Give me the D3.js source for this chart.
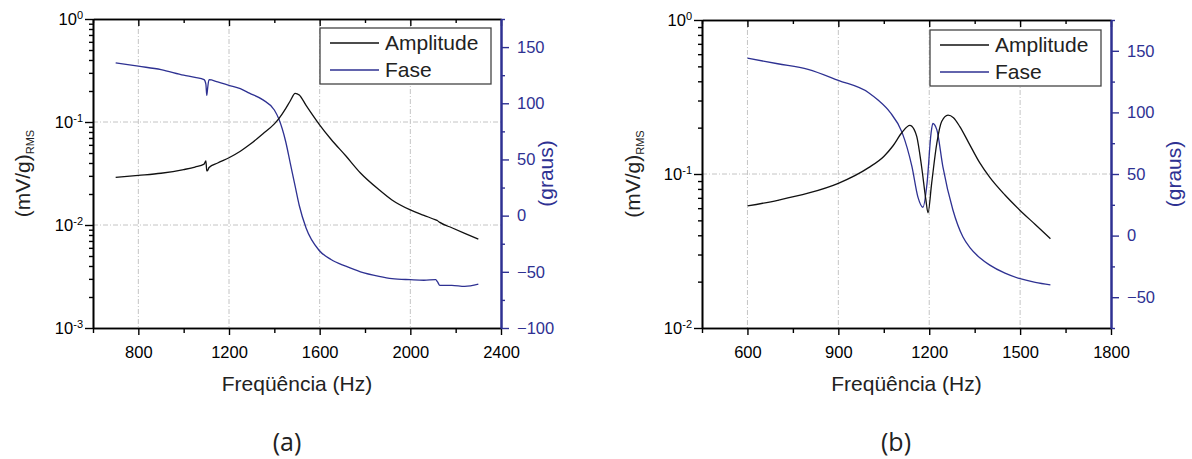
<!DOCTYPE html>
<html>
<head>
<meta charset="utf-8">
<script src="https://cdn.jsdelivr.net/npm/d3@7"></script>
<style>
  body { margin: 0; background: #fff; }
  svg { font-family: "Liberation Sans", Arial, sans-serif; }
</style>
</head>
<body>
<svg id="chart" width="1192" height="459"></svg>
<script>
// Panel (a): measured response
const freqA = [700, 800, 900, 1000, 1050, 1090, 1098, 1102, 1106, 1112, 1150, 1200, 1250, 1290, 1350, 1400,
  1420, 1450, 1470, 1492, 1510, 1540, 1598, 1650, 1715, 1780, 1862, 1919, 2000, 2060, 2112, 2120, 2130,
  2183, 2240, 2300];
const ampA = [0.029, 0.0303, 0.0318, 0.0345, 0.0365, 0.039, 0.042, 0.0335, 0.034, 0.0362, 0.040, 0.045,
  0.052, 0.060, 0.077, 0.096, 0.108, 0.135, 0.16, 0.19, 0.183, 0.145, 0.095, 0.068, 0.047, 0.032, 0.022,
  0.0175, 0.014, 0.0124, 0.0112, 0.0110, 0.0106, 0.0094, 0.0083, 0.0073];
const phaseA = [136, 133, 130, 125, 123, 121, 117, 107, 114, 121, 119, 116, 113, 109, 103, 94, 86, 66, 47,
  26, 9, -11, -31, -39, -45, -50, -54, -56, -57, -57.5, -57, -59, -62, -62, -63, -61];

// Panel (b): model response
const ampFreqB = [600, 700, 800, 900, 1000, 1050, 1080, 1110, 1136, 1150, 1159, 1175, 1189, 1196, 1208,
  1225, 1241, 1262, 1280, 1301, 1330, 1367, 1400, 1450, 1500, 1550, 1600];
const ampB = [0.062, 0.0675, 0.075, 0.087, 0.11, 0.13, 0.152, 0.186, 0.207, 0.195, 0.175, 0.111, 0.068,
  0.056, 0.087, 0.158, 0.219, 0.241, 0.232, 0.203, 0.16, 0.118, 0.095, 0.073, 0.058, 0.047, 0.038];
const phaseFreqB = [600, 700, 800, 900, 1000, 1031, 1071, 1110, 1143, 1163, 1179, 1193, 1206, 1212, 1225,
  1245, 1278, 1311, 1335, 1367, 1400, 1450, 1500, 1550, 1600];
const phaseB = [144, 139.5, 135, 126, 116, 110, 100, 84, 56, 31, 23, 43, 83, 91, 86, 56, 21, -1, -10, -18, -24,
  -30.5, -35, -38, -40];

const legendLabels = ["Amplitude", "Fase"];
const xTitle = "Freqüência (Hz)";

const blue = "#2e3192";
const svg = d3.select("#chart");

function drawPanel(p) {
  const g = svg.append("g");
  const x = d3.scaleLinear().domain(p.xDomain).range([p.left, p.right]);
  const y = d3.scaleLog().domain(p.yDomain).range([p.bottom, p.top]);
  const y2 = d3.scaleLinear().domain(p.y2Domain).range([p.bottom, p.top]);

  // grid
  g.selectAll(".gx").data(p.xGrid).join("line")
    .attr("x1", d => x(d)).attr("x2", d => x(d))
    .attr("y1", p.top).attr("y2", p.bottom)
    .attr("stroke", "#c4c4c4").attr("stroke-dasharray", "5,2,1,2");
  g.selectAll(".gy").data(p.yGrid).join("line")
    .attr("x1", p.left).attr("x2", p.right)
    .attr("y1", d => y(d)).attr("y2", d => y(d))
    .attr("stroke", "#c4c4c4").attr("stroke-dasharray", "5,2,1,2");

  // curves
  const ampLine = d3.line().x((d, i) => x(p.ampFreq[i])).y(d => y(d)).curve(d3.curveMonotoneX);
  const phaseLine = d3.line().x((d, i) => x(p.phaseFreq[i])).y(d => y2(d)).curve(d3.curveMonotoneX);
  g.append("path").attr("d", phaseLine(p.phase))
    .attr("fill", "none").attr("stroke", blue).attr("stroke-width", 1.3);
  g.append("path").attr("d", ampLine(p.amp))
    .attr("fill", "none").attr("stroke", "#111").attr("stroke-width", 1.3);

  // bottom axis
  const xMinor = d3.range(p.xDomain[0], p.xDomain[1] + 1, p.xStep / 2).filter(v => !p.xMajor.includes(v));
  g.append("g").attr("transform", `translate(0,${p.bottom})`)
    .call(d3.axisBottom(x).tickValues(p.xMajor).tickSize(7).tickSizeOuter(0).tickPadding(11).tickFormat(d3.format("d")));
  g.append("g").attr("transform", `translate(0,${p.bottom})`)
    .call(d3.axisBottom(x).tickValues(xMinor).tickSize(5).tickSizeOuter(0).tickFormat(""));
  // top axis, ticks inward
  g.append("g").attr("transform", `translate(0,${p.top})`)
    .call(d3.axisTop(x).tickValues(p.xMajor).tickSize(-7).tickSizeOuter(0).tickFormat(""));
  g.append("g").attr("transform", `translate(0,${p.top})`)
    .call(d3.axisTop(x).tickValues(xMinor).tickSize(-4).tickSizeOuter(0).tickFormat(""));

  // left log axis
  const e0 = Math.round(Math.log10(p.yDomain[0])), e1 = Math.round(Math.log10(p.yDomain[1]));
  const decades = d3.range(e0, e1 + 1).map(e => Math.pow(10, e));
  const yMinor = [];
  d3.range(e0, e1).forEach(e => { for (let k = 2; k < 10; k++) yMinor.push(k * Math.pow(10, e)); });
  const la = g.append("g").attr("transform", `translate(${p.left},0)`)
    .call(d3.axisLeft(y).tickValues(decades).tickSize(8).tickSizeOuter(0).tickPadding(2).tickFormat(""));
  la.selectAll(".tick text").each(function (d) {
    const t = d3.select(this);
    t.append("tspan").text("10");
    t.append("tspan").attr("dy", "-0.55em").attr("font-size", "11px").text(Math.round(Math.log10(d)));
  });
  g.append("g").attr("transform", `translate(${p.left},0)`)
    .call(d3.axisLeft(y).tickValues(yMinor).tickSize(4).tickSizeOuter(0).tickFormat(""));

  // right phase axis
  const y2Minor = p.y2Major.map(v => v - 25).filter(v => v >= p.y2Domain[0]).concat([p.y2Major[p.y2Major.length - 1] + 25]);
  const ra = g.append("g").attr("transform", `translate(${p.right},0)`)
    .call(d3.axisRight(y2).tickValues(p.y2Major).tickSize(8).tickSizeOuter(0).tickPadding(8));
  const rm = g.append("g").attr("transform", `translate(${p.right},0)`)
    .call(d3.axisRight(y2).tickValues(y2Minor).tickSize(4).tickSizeOuter(0).tickFormat(""));
  [ra, rm].forEach(a => {
    a.selectAll("line").attr("stroke", blue).attr("stroke-width", 1.5);
    a.select(".domain").attr("stroke", blue).attr("stroke-width", 2);
  });
  ra.selectAll("text").attr("fill", blue);

  g.selectAll(".domain").attr("stroke-width", function () { return d3.select(this).attr("stroke-width") || 1.6; });
  g.selectAll(".tick line").attr("stroke-width", 1.4);
  g.selectAll(".tick text").attr("font-size", "16.5px").attr("font-family", "Liberation Sans, Arial, sans-serif");

  // axis titles
  g.append("text").attr("x", (p.left + p.right) / 2).attr("y", 391)
    .attr("text-anchor", "middle").attr("font-size", "21px").attr("fill", "#222").text(xTitle);
  const yt = g.append("text")
    .attr("transform", `translate(${p.yTitleX},${(p.top + p.bottom) / 2}) rotate(-90)`)
    .attr("text-anchor", "middle").attr("font-size", "21px").attr("fill", "#222");
  yt.append("tspan").text("(mV/g)");
  yt.append("tspan").attr("dy", "0.35em").attr("font-size", "11px").text("RMS");
  g.append("text")
    .attr("transform", `translate(${p.y2TitleX},${(p.top + p.bottom) / 2}) rotate(-90)`)
    .attr("text-anchor", "middle").attr("font-size", "21px").attr("fill", blue).text("(graus)");

  // legend
  const lg = g.append("g").attr("transform", `translate(${p.legX},${p.legY})`);
  lg.append("rect").attr("width", 171).attr("height", 56)
    .attr("fill", "#fff").attr("stroke", "#444").attr("stroke-width", 1.3);
  legendLabels.forEach((lab, i) => {
    const cy = 15 + i * 27;
    lg.append("line").attr("x1", 10).attr("x2", 59).attr("y1", cy).attr("y2", cy)
      .attr("stroke", i === 0 ? "#111" : blue).attr("stroke-width", 1.3);
    lg.append("text").attr("x", 65).attr("y", cy).attr("dy", "0.35em")
      .attr("font-size", "21px").attr("fill", "#222").text(lab);
  });

  // caption
  g.append("text").attr("x", p.capX).attr("y", 451).attr("text-anchor", "middle")
    .attr("font-family", "Open Sans, sans-serif").attr("font-size", "25px").attr("fill", "#222").text(p.caption);
}

drawPanel({
  left: 93, right: 501, top: 19, bottom: 328,
  xDomain: [600, 2400], xStep: 400, xMajor: [800, 1200, 1600, 2000, 2400], xGrid: [800, 1200, 1600, 2000],
  yDomain: [1e-3, 1], yGrid: [0.1, 0.01],
  y2Domain: [-100, 175], y2Major: [-100, -50, 0, 50, 100, 150],
  ampFreq: freqA, amp: ampA, phaseFreq: freqA, phase: phaseA,
  yTitleX: 30, y2TitleX: 553, legX: 320, legY: 28, capX: 287, caption: "(a)"
});

drawPanel({
  left: 702, right: 1111, top: 20, bottom: 328,
  xDomain: [450, 1800], xStep: 300, xMajor: [600, 900, 1200, 1500, 1800], xGrid: [600, 900, 1200, 1500],
  yDomain: [1e-2, 1], yGrid: [0.1],
  y2Domain: [-75, 175], y2Major: [-50, 0, 50, 100, 150],
  ampFreq: ampFreqB, amp: ampB, phaseFreq: phaseFreqB, phase: phaseB,
  yTitleX: 640, y2TitleX: 1181, legX: 930, legY: 30, capX: 896, caption: "(b)"
});
</script>
</body>
</html>
